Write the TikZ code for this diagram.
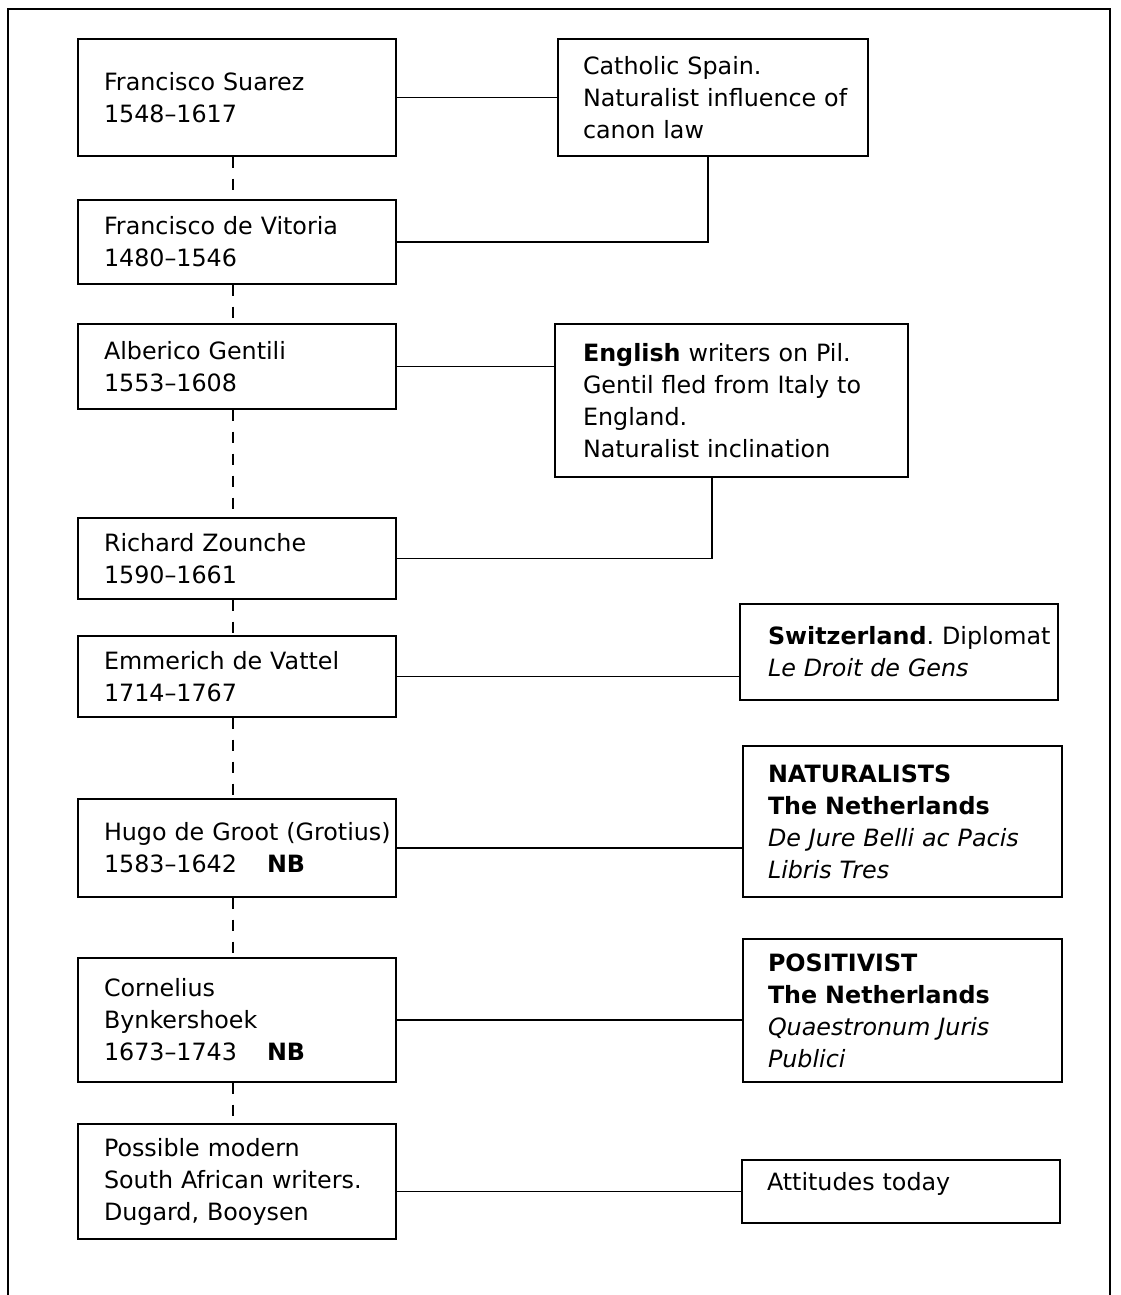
\documentclass[tikz,border=0pt]{standalone}
\usepackage{fontspec}
\setmainfont{DejaVu Sans}
\usepackage{tikz}
\frenchspacing

\begin{document}
\begin{tikzpicture}[x=0.5pt, y=-0.5pt, line width=0.65pt,
    writer/.style ={draw, align=left, inner xsep=13pt, text width=133pt,
                    font=\fontsize{11.9pt}{16pt}\selectfont},
    remark/.style ={draw, align=left, inner xsep=12.5pt,
                    font=\fontsize{11.9pt}{16pt}\selectfont},
    lineage/.style ={dash pattern=on 5.5pt off 5.5pt}]
   \useasboundingbox (0,0) rectangle (1120,1295);
   \draw (8,1295) -- (8,9) -- (1110,9) -- (1110,1295);

   \node[writer, minimum height=58.5pt] (suarez) at (237,97.5) {Francisco Suarez\\1548--1617};
   \node[writer, minimum height=42pt] (vitoria) at (237,242) {Francisco de Vitoria\\1480--1546};
   \node[writer, minimum height=42.5pt] (gentili) at (237,366.5) {Alberico Gentili\\1553--1608};
   \node[writer, minimum height=40.5pt] (zounche) at (237,558.5) {Richard Zounche\\1590--1661};
   \node[writer, minimum height=40.5pt] (vattel) at (237,676.5) {Emmerich de Vattel\\1714--1767};
   \node[writer, minimum height=49pt] (grotius) at (237,848) {\mbox{Hugo de Groot (Grotius)}\\1583--1642\hspace{15pt}\textbf{NB}};
   \node[writer, minimum height=62pt] (bynkershoek) at (237,1020) {Cornelius\\Bynkershoek\\1673--1743\hspace{15pt}\textbf{NB}};
   \node[writer, minimum height=57.5pt] (modern) at (237,1181.5) {Possible modern\\South African writers.\\Dugard, Booysen};

   \node[remark, text width=130pt, minimum height=58.5pt] (catholic) at (713,97.5) {Catholic Spain.\\\mbox{Naturalist influence of}\\canon law};
   \node[remark, inner xsep=14pt, text width=148.5pt, minimum height=76.5pt] (english) at (731.5,400.5) {\textbf{English} writers on Pil.\\Gentil fled from Italy to\\England.\\Naturalist inclination};
   \node[remark, inner xsep=14pt, text width=131pt, minimum height=48pt] (swiss) at (899,652) {\mbox{\textbf{Switzerland}. Diplomat}\\\textit{Le Droit de Gens}\par\vspace{6pt}};
   \node[remark, text width=134.5pt, minimum height=75.5pt] (naturalists) at (902.5,821.5) {\textbf{NATURALISTS}\\\textbf{The Netherlands}\\\mbox{\textit{De Jure Belli ac Pacis}}\\\textit{Libris Tres}\par\vspace{6pt}};
   \node[remark, text width=134.5pt, minimum height=71.5pt] (positivist) at (902.5,1010.5) {\textbf{POSITIVIST}\\\textbf{The Netherlands}\\\textit{Quaestronum Juris}\\\textit{Publici}\par\vspace{4pt}};
   \node[remark, text width=134pt, minimum height=31.5pt, text depth=10pt] (attitudes) at (901,1191.5) {Attitudes today};

   \foreach \a/\b in {suarez/vitoria, vitoria/gentili, gentili/zounche, zounche/vattel,
                      vattel/grotius, grotius/bynkershoek, bynkershoek/modern}
     \draw[lineage] ([xshift=-2pt]\a.south) to ([xshift=-2pt]\b.north);

   \draw (suarez) to (catholic);
   \draw (vitoria.east) -| ([xshift=-2.5pt]catholic.south);
   \draw (gentili.east) to (gentili.east -| english.west);
   \draw (zounche.east) -| ([xshift=-9.75pt]english.south);
   \draw (vattel.east) to (vattel.east -| swiss.west);
   \draw (grotius.east) to (grotius.east -| naturalists.west);
   \draw (bynkershoek.east) to (bynkershoek.east -| positivist.west);
   \draw (attitudes.west -| modern.east) to (attitudes.west);
 \end{tikzpicture}
\end{document}
